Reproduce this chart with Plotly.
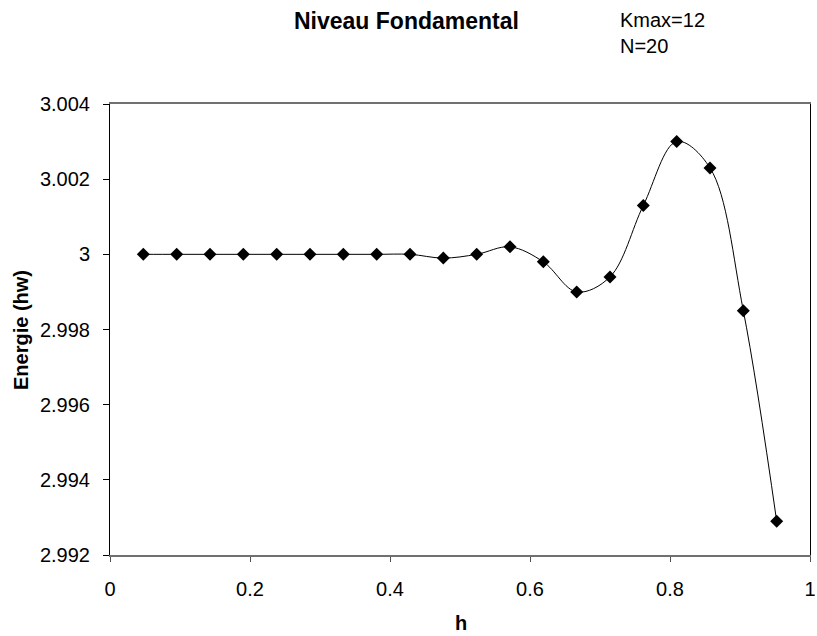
import plotly.graph_objects as go

h_values = [k / 21 for k in range(1, 21)]
energie = [3.0000, 3.0000, 3.0000, 3.0000, 3.0000, 3.0000, 3.0000, 3.0000, 3.0000,
           2.9999, 3.0000, 3.0002, 2.9998, 2.9990, 2.9994, 3.0013, 3.0030, 3.0023,
           2.9985, 2.9929]

y_tickvals = [2.992, 2.994, 2.996, 2.998, 3.000, 3.002, 3.004]
y_ticktext = ["2.992", "2.994", "2.996", "2.998", "3", "3.002", "3.004"]
x_tickvals = [0, 0.2, 0.4, 0.6, 0.8, 1]
x_ticktext = ["0", "0.2", "0.4", "0.6", "0.8", "1"]

FONT = "Liberation Sans, Arial, sans-serif"

L, R, T, B = 110, 7, 104, 81
W, H = 817, 636
PW, PH = W - L - R, H - T - B


def px(xp):
    return (xp - L) / PW


def py(yp):
    return (H - B - yp) / PH


fig = go.Figure()
fig.add_trace(go.Scatter(
    x=h_values, y=energie, mode="lines+markers",
    line=dict(color="black", width=1, shape="spline", smoothing=1.0),
    marker=dict(symbol="diamond", size=10, color="black"),
    showlegend=False,
))

fig.update_layout(
    width=W, height=H,
    margin=dict(l=L, r=R, t=T, b=B, autoexpand=False),
    paper_bgcolor="white", plot_bgcolor="white",
    font=dict(family=FONT, size=20, color="black"),
    xaxis=dict(
        range=[0, 1], tickvals=x_tickvals, ticktext=x_ticktext,
        showgrid=False, zeroline=False, automargin=False,
        showline=True, linecolor="#707070", linewidth=2, mirror=True,
        ticks="outside", ticklen=5, tickcolor="#505050",
        ticklabelstandoff=10, ticklabeloverflow="allow",
        tickfont=dict(size=20),
    ),
    yaxis=dict(
        range=[2.992, 3.004], tickvals=y_tickvals, ticktext=y_ticktext,
        showgrid=False, zeroline=False, automargin=False,
        showline=True, linecolor="black", linewidth=1, mirror=True,
        ticks="outside", ticklen=6, tickcolor="black",
        ticklabelstandoff=9,
        tickfont=dict(size=20),
    ),
    annotations=[
        dict(text="<b>Niveau Fondamental</b>", xref="paper", yref="paper",
             x=px(406), y=py(21), xanchor="center", yanchor="middle",
             showarrow=False, font=dict(size=23)),
        dict(text="Kmax=12<br>N=20", xref="paper", yref="paper",
             x=px(618), y=py(7), xanchor="left", yanchor="top",
             align="left", showarrow=False, font=dict(size=20)),
        dict(text="<b>h</b>", xref="paper", yref="paper",
             x=px(461), y=py(623), xanchor="center", yanchor="middle",
             showarrow=False, font=dict(size=20)),
        dict(text="<b>Energie (hw)</b>", xref="paper", yref="paper",
             x=px(21), y=py(330), xanchor="center", yanchor="middle",
             textangle=-90, showarrow=False, font=dict(size=20)),
    ],
)

fig.write_html("out.html")
